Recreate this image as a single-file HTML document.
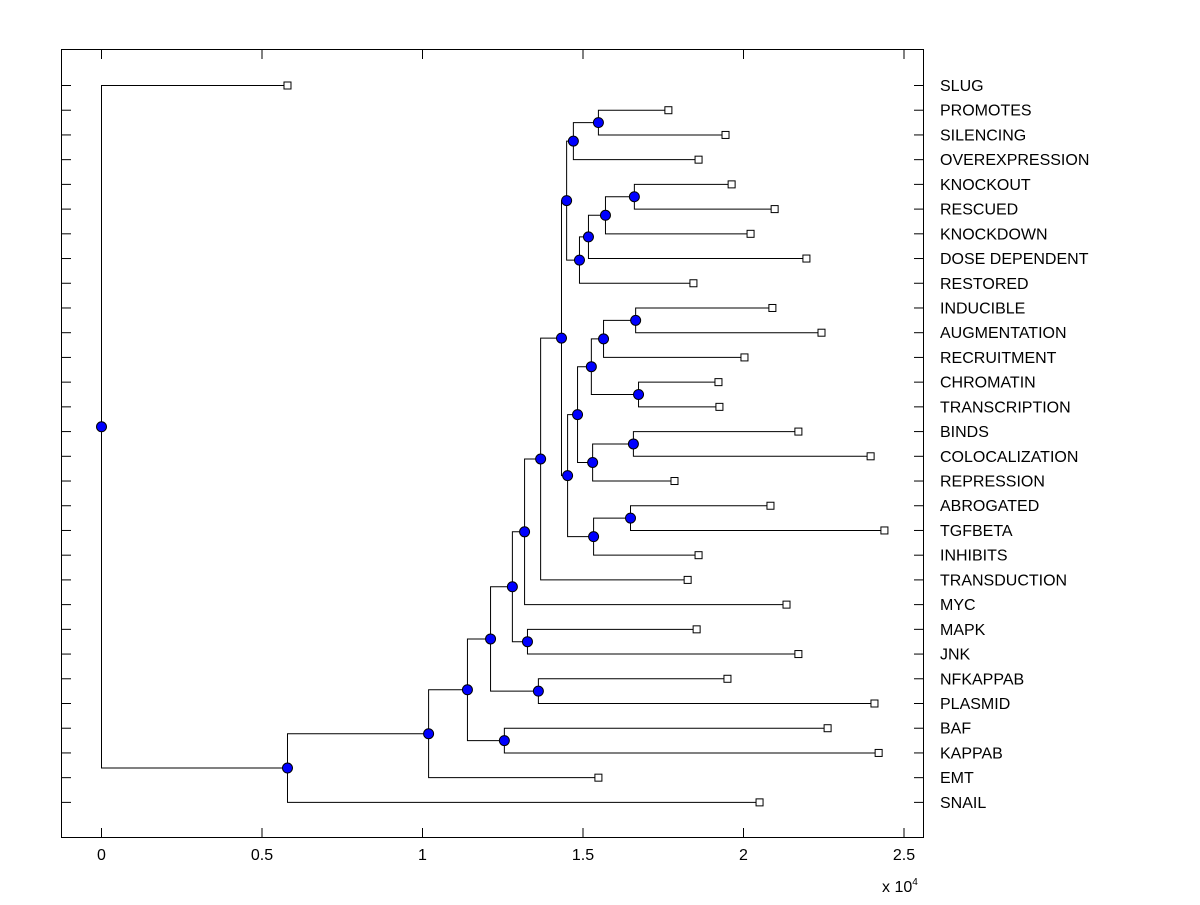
<!DOCTYPE html>
<html><head><meta charset="utf-8"><style>
body{margin:0;background:#fff}
text{font-family:"Liberation Sans",Arial,sans-serif;font-size:16px;fill:#000}
</style></head><body>
<svg id="chart" width="1200" height="900">
<rect x="0" y="0" width="1200" height="900" fill="#fff"/>
<rect x="61.5" y="49.5" width="862" height="788" fill="#fff" stroke="#000"/>
<g id="ticks"></g><g id="tree"></g>
<text x="882" y="892" font-size="14">x 10<tspan dy="-7" font-size="10">4</tspan></text>
</svg>
<script>
const leafNames=["SLUG","PROMOTES","SILENCING","OVEREXPRESSION","KNOCKOUT","RESCUED","KNOCKDOWN","DOSE DEPENDENT","RESTORED","INDUCIBLE","AUGMENTATION","RECRUITMENT","CHROMATIN","TRANSCRIPTION","BINDS","COLOCALIZATION","REPRESSION","ABROGATED","TGFBETA","INHIBITS","TRANSDUCTION","MYC","MAPK","JNK","NFKAPPAB","PLASMID","BAF","KAPPAB","EMT","SNAIL"];
const leafHeights=[5794,17660,19440,18600,19630,20970,20220,21960,18440,20900,22430,20030,19220,19250,21710,23960,17850,20840,24390,18600,18260,21340,18540,21710,19500,24080,22620,24210,15480,20500];
// merges: [childA, childB, height]; children are leaf indices or "n"+mergeIndex
const merges=[
["1","2",15480],["n0","3",14700],["4","5",16600],["n2","6",15700],["n3","7",15170],["n4","8",14890],["n1","n5",14490],
["9","10",16640],["n7","11",15640],["12","13",16730],["n8","n9",15260],["14","15",16570],["n11","16",15300],["n10","n12",14830],
["17","18",16480],["n14","19",15330],["n13","n15",14520],["n6","n16",14330],["n17","20",13680],["n18","21",13180],
["22","23",13270],["n19","n20",12800],["24","25",13610],["n21","n22",12120],["26","27",12550],["n23","n24",11400],
["n25","28",10190],["n26","29",5794],["0","n27",0]];
const xTicks=[0,5000,10000,15000,20000,25000];
const xTickLabels=["0","0.5","1","1.5","2","2.5"];
const NS="http://www.w3.org/2000/svg";
const X=v=>101+v*0.0321, Y=i=>85+i*24.72;
const tk=document.getElementById("ticks"), tr=document.getElementById("tree");
function mk(tag,a,p){const e=document.createElementNS(NS,tag);for(const k in a)e.setAttribute(k,a[k]);p.appendChild(e);return e;}
xTicks.forEach((v,i)=>{const x=X(v)+0.5;
 let t=mk("line",{x1:x,x2:x,y1:837,y2:828,stroke:"#000"},tk);
 
 
 mk("line",{x1:x,x2:x,y1:50,y2:59,stroke:"#000"},tk);
 let l=mk("text",{x:x,y:860,"text-anchor":"middle"},tk);l.textContent=xTickLabels[i];
 
 
});
leafNames.forEach((n,i)=>{const y=Y(i)+0.5;
 mk("line",{x1:62,x2:71,y1:y,y2:y,stroke:"#000"},tk);
 mk("line",{x1:914,x2:923,y1:y,y2:y,stroke:"#000"},tk);
 let l=mk("text",{x:940,y:Y(i)+6},tk);l.textContent=n;
 
 
});
const pos={};
leafNames.forEach((n,i)=>{pos[String(i)]={x:X(leafHeights[i]),y:Y(i)};});
const nodes=[];
merges.forEach((m,k)=>{const a=pos[m[0]],b=pos[m[1]],x=X(m[2]),y=(a.y+b.y)/2;
 pos["n"+k]={x:x,y:y};
 let p=mk("polyline",{points:`${a.x+0.5},${a.y+0.5} ${x+0.5},${a.y+0.5} ${x+0.5},${b.y+0.5} ${b.x+0.5},${b.y+0.5}`,fill:"none",stroke:"#000"},tr);
 
 
 nodes.push([x,y]);
});
leafNames.forEach((n,i)=>{const p=pos[String(i)];
 let r=mk("rect",{x:p.x-3,y:p.y-3,width:7,height:7,fill:"#fff",stroke:"#000"},tr);
 
 
});
nodes.forEach(([x,y])=>{
 let c=mk("circle",{cx:x+0.5,cy:y+0.5,r:5,fill:"#0000ff",stroke:"#000"},tr);
 
 
});
</script>
</body></html>
